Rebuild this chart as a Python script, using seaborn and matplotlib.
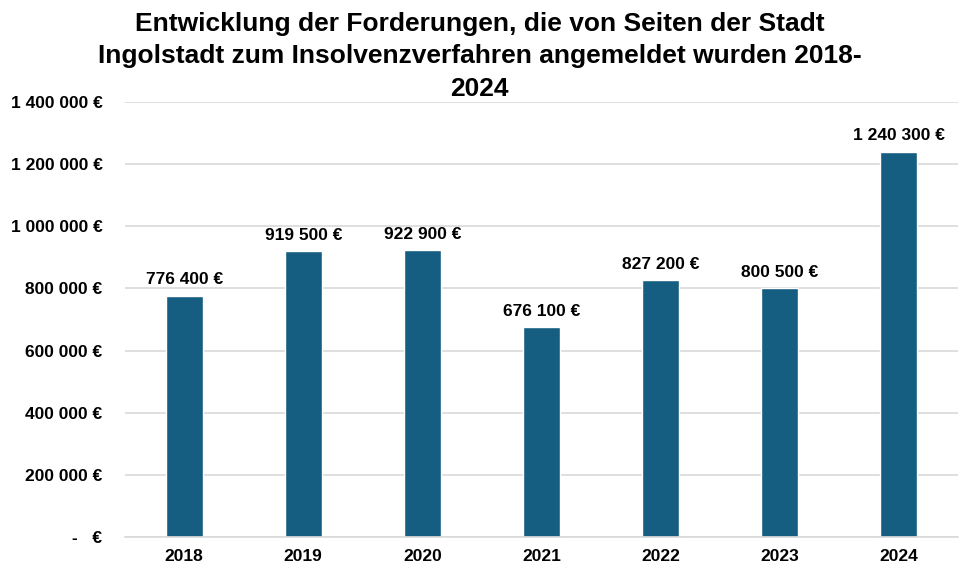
import pandas as pd
import seaborn as sns
import matplotlib.pyplot as plt
from matplotlib.ticker import FuncFormatter

years = ['2018', '2019', '2020', '2021', '2022', '2023', '2024']
amounts = [776400, 919500, 922900, 676100, 827200, 800500, 1240300]
title = ('Entwicklung der Forderungen, die von Seiten der Stadt\n'
         'Ingolstadt zum Insolvenzverfahren angemeldet wurden 2018-\n'
         '2024')


def euro(v, pos=None):
    if v == 0:
        return '-   €'
    return f'{int(round(v)):,} €'.replace(',', ' ')


def main():
    sns.set_theme(style='white')
    plt.rcParams['font.family'] = ['Liberation Sans', 'DejaVu Sans']
    plt.rcParams['font.weight'] = 'bold'
    plt.rcParams['text.color'] = 'black'
    plt.rcParams['xtick.color'] = 'black'
    plt.rcParams['ytick.color'] = 'black'

    df = pd.DataFrame({'Jahr': years, 'Betrag': amounts})

    fig = plt.figure(figsize=(9.59, 5.84), dpi=100)
    ax = fig.add_axes([0.130, 0.0805, 0.869, 0.7448])
    sns.barplot(data=df, x='Jahr', y='Betrag', color='#165E81',
                width=0.31, saturation=1, ax=ax)

    for i, v in enumerate(amounts):
        ax.annotate(euro(v), (i, v), xytext=(0, 6), textcoords='offset points',
                    ha='center', va='bottom', fontsize=12.5, fontweight='bold',
                    color='black')

    ax.set_ylim(0, 1400000)
    ax.set_yticks(range(0, 1400001, 200000))
    ax.yaxis.set_major_formatter(FuncFormatter(euro))
    ax.grid(axis='y', color='#D9D9D9', linewidth=1.2)
    ax.set_axisbelow(True)
    for s in ax.spines.values():
        s.set_visible(False)
    ax.spines['bottom'].set_visible(True)
    ax.spines['bottom'].set_color('#D9D9D9')
    ax.spines['bottom'].set_linewidth(1.2)
    ax.tick_params(axis='y', length=0, pad=16, labelsize=12.5)
    ax.tick_params(axis='x', length=0, pad=9, labelsize=12.5)
    for lbl in ax.get_xticklabels() + ax.get_yticklabels():
        lbl.set_fontweight('bold')
    ax.set_xlabel('')
    ax.set_ylabel('')

    fig.suptitle(title, fontsize=19, fontweight='bold', y=0.98,
                 linespacing=1.45, color='black')
    fig.savefig('out.png', dpi=100)
    plt.close(fig)


if __name__ == '__main__':
    main()
